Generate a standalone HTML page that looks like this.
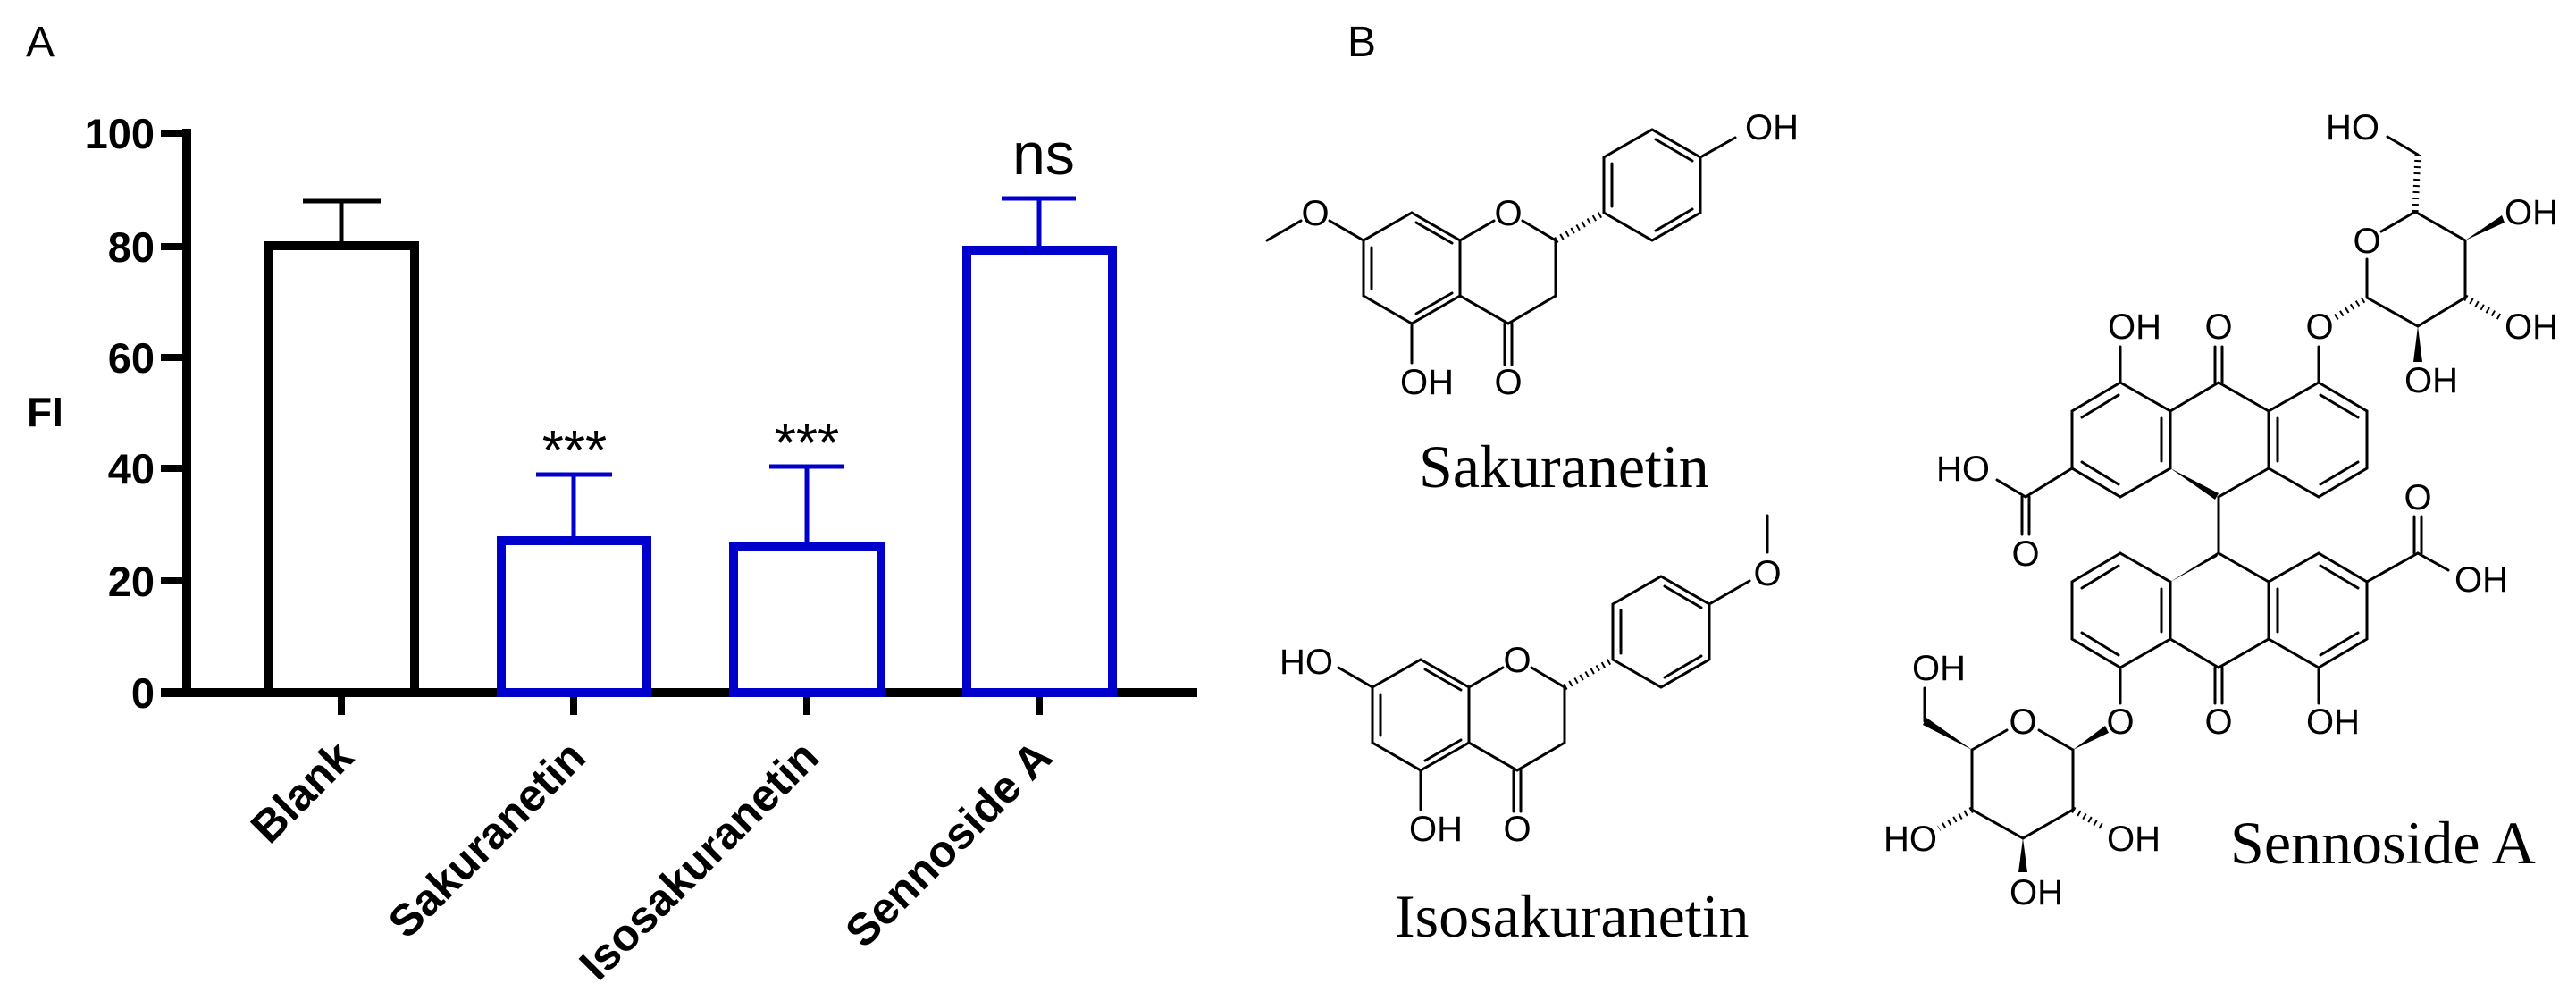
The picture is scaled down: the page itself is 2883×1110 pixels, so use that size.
<!DOCTYPE html>
<html><head><meta charset="utf-8"><style>
html,body{margin:0;padding:0;background:#fff;}
svg{display:block;}
.ax{font-family:"Liberation Sans",Arial,sans-serif;font-weight:bold;}
.lb{font-family:"Liberation Sans",Arial,sans-serif;font-size:40px;}
.nm{font-family:"Liberation Serif","Times New Roman",serif;font-size:68px;}
</style></head><body>
<svg width="2883" height="1110" viewBox="0 0 2883 1110" xmlns="http://www.w3.org/2000/svg">
<rect width="2883" height="1110" fill="#fff"/>
<!-- Panel labels -->
<text x="29" y="63" font-family="Liberation Sans, sans-serif" font-size="48">A</text>
<text x="1508" y="63" font-family="Liberation Sans, sans-serif" font-size="48">B</text>

<!-- Chart -->
<g stroke="#000" stroke-linecap="butt" fill="none">
<line x1="209" y1="144" x2="209" y2="780" stroke-width="10"/>
<line x1="180" y1="775" x2="1340" y2="775" stroke-width="10"/>
<g stroke-width="8">
<line x1="180" y1="149" x2="209" y2="149"/>
<line x1="180" y1="276" x2="209" y2="276"/>
<line x1="180" y1="400" x2="209" y2="400"/>
<line x1="180" y1="524" x2="209" y2="524"/>
<line x1="180" y1="650" x2="209" y2="650"/>
<line x1="382" y1="775" x2="382" y2="800"/>
<line x1="642" y1="775" x2="642" y2="800"/>
<line x1="903" y1="775" x2="903" y2="800"/>
<line x1="1163" y1="775" x2="1163" y2="800"/>
</g>
<rect x="300" y="275" width="164" height="500" stroke-width="10"/>
<line x1="382" y1="270" x2="382" y2="225" stroke-width="5"/>
<line x1="339" y1="225" x2="426" y2="225" stroke-width="5"/>
</g>
<g stroke="#0000cc" fill="none">
<rect x="561" y="605" width="163" height="170" stroke-width="10"/>
<line x1="642" y1="600" x2="642" y2="531" stroke-width="5"/>
<line x1="600" y1="531" x2="685" y2="531" stroke-width="5"/>
<rect x="821" y="612" width="165" height="163" stroke-width="10"/>
<line x1="903" y1="607" x2="903" y2="522" stroke-width="5"/>
<line x1="861" y1="522" x2="945" y2="522" stroke-width="5"/>
<rect x="1082" y="280" width="163" height="495" stroke-width="10"/>
<line x1="1163" y1="275" x2="1163" y2="222" stroke-width="5"/>
<line x1="1121" y1="222" x2="1204" y2="222" stroke-width="5"/>
</g>
<g class="ax" font-size="47" text-anchor="end">
<text x="173" y="166">100</text>
<text x="173" y="293">80</text>
<text x="173" y="417">60</text>
<text x="173" y="541">40</text>
<text x="173" y="667">20</text>
<text x="173" y="792">0</text>
</g>
<text class="ax" x="30" y="477" font-size="46">FI</text>
<g font-family="Liberation Sans, sans-serif" font-size="62" text-anchor="middle">
<text x="643" y="525">***</text>
<text x="903" y="517">***</text>
<text x="1168" y="195" font-size="66">ns</text>
</g>
<g class="ax" font-size="50" text-anchor="end">
<text transform="translate(398,850) rotate(-45)">Blank</text>
<text transform="translate(658,850) rotate(-45)">Sakuranetin</text>
<text transform="translate(919,850) rotate(-45)">Isosakuranetin</text>
<text transform="translate(1180,850) rotate(-45)">Sennoside A</text>
</g>

<defs>
<g id="flav" stroke="#000" stroke-width="3" fill="none" stroke-linecap="round">
<polyline points="1580,238 1634,269 1634,331 1580,362 1526,331 1526,269 1580,238"/>
<line x1="1535" y1="277" x2="1535" y2="323"/>
<line x1="1585" y1="249" x2="1625" y2="272"/>
<line x1="1585" y1="351" x2="1625" y2="328"/>
<line x1="1634" y1="269" x2="1672" y2="247"/>
<line x1="1704" y1="247" x2="1741" y2="269"/>
<polyline points="1741,269 1741,331 1688,362 1634,331"/>
<line x1="1684" y1="362" x2="1684" y2="408"/>
<line x1="1692" y1="362" x2="1692" y2="408"/>
<line x1="1580" y1="362" x2="1580" y2="406"/>
<line x1="1741" y1="269" x2="1795" y2="238" stroke-width="7" stroke-dasharray="2,5" stroke-linecap="butt"/>
<polyline points="1795,238 1795,176 1849,145 1903,176 1903,238 1849,269 1795,238"/>
<line x1="1804" y1="183" x2="1804" y2="231"/>
<line x1="1853" y1="156" x2="1894" y2="180"/>
<line x1="1894" y1="234" x2="1853" y2="258"/>
</g>
</defs>

<!-- Sakuranetin -->
<use href="#flav"/>
<g stroke="#000" stroke-width="3" fill="none" stroke-linecap="round">
<line x1="1526" y1="269" x2="1488" y2="247"/>
<line x1="1456" y1="247" x2="1418" y2="269"/>
<line x1="1903" y1="176" x2="1942" y2="154"/>
</g>
<g class="lb" text-anchor="middle">
<text x="1688" y="252">O</text>
<text x="1688" y="441">O</text>
<text x="1597" y="441">OH</text>
<text x="1472" y="252">O</text>
<text x="1983" y="156">OH</text>
</g>
<text class="nm" x="1588" y="545">Sakuranetin</text>

<!-- Isosakuranetin -->
<use href="#flav" transform="translate(10,500)"/>
<g stroke="#000" stroke-width="3" fill="none" stroke-linecap="round">
<line x1="1536" y1="769" x2="1498" y2="747"/>
<line x1="1913" y1="676" x2="1958" y2="650"/>
<line x1="1978" y1="618" x2="1978" y2="577"/>
</g>
<g class="lb" text-anchor="middle">
<text x="1698" y="752">O</text>
<text x="1698" y="941">O</text>
<text x="1607" y="941">OH</text>
<text x="1462" y="754">HO</text>
<text x="1978" y="655">O</text>
</g>
<text class="nm" x="1561" y="1048">Isosakuranetin</text>

<!-- Sennoside A -->
<g stroke="#000" stroke-width="3" fill="none" stroke-linecap="round">
<polyline points="2373,428 2429,460 2429,524 2373,556 2319,524 2319,460 2373,428"/>
<line x1="2330" y1="467" x2="2371" y2="442"/>
<line x1="2330" y1="517" x2="2371" y2="542"/>
<line x1="2419" y1="468" x2="2419" y2="516"/>
<polyline points="2429,460 2483,428 2539,460"/>
<line x1="2483" y1="556" x2="2539" y2="524"/>
<polyline points="2595,428 2649,460 2649,524 2595,556 2539,524 2539,460 2595,428"/>
<line x1="2597" y1="442" x2="2639" y2="467"/>
<line x1="2639" y1="517" x2="2597" y2="542"/>
<line x1="2549" y1="468" x2="2549" y2="516"/>
<line x1="2373" y1="428" x2="2373" y2="388"/>
<line x1="2479" y1="428" x2="2479" y2="388"/>
<line x1="2487" y1="428" x2="2487" y2="388"/>
<line x1="2595" y1="428" x2="2595" y2="388"/>
<line x1="2319" y1="524" x2="2267" y2="556"/>
<line x1="2267" y1="556" x2="2235" y2="537"/>
<line x1="2263" y1="556" x2="2263" y2="598"/>
<line x1="2271" y1="556" x2="2271" y2="598"/>
<line x1="2483" y1="556" x2="2483" y2="619"/>
<polyline points="2373,619 2429,651 2429,715 2373,747 2319,715 2319,651 2373,619"/>
<line x1="2330" y1="658" x2="2371" y2="633"/>
<line x1="2330" y1="708" x2="2371" y2="733"/>
<line x1="2419" y1="659" x2="2419" y2="707"/>
<polyline points="2429,715 2483,747 2539,715"/>
<line x1="2483" y1="619" x2="2539" y2="651"/>
<polyline points="2595,619 2649,651 2649,715 2595,747 2539,715 2539,651 2595,619"/>
<line x1="2597" y1="633" x2="2639" y2="658"/>
<line x1="2639" y1="708" x2="2597" y2="733"/>
<line x1="2549" y1="659" x2="2549" y2="707"/>
<line x1="2373" y1="747" x2="2373" y2="787"/>
<line x1="2479" y1="747" x2="2479" y2="787"/>
<line x1="2487" y1="747" x2="2487" y2="787"/>
<line x1="2595" y1="747" x2="2595" y2="787"/>
<line x1="2649" y1="651" x2="2706" y2="619"/>
<line x1="2702" y1="619" x2="2702" y2="578"/>
<line x1="2710" y1="619" x2="2710" y2="578"/>
<line x1="2706" y1="619" x2="2740" y2="638"/>
<line x1="2649" y1="333" x2="2649" y2="290"/>
<line x1="2665" y1="259" x2="2703" y2="237"/>
<polyline points="2703,237 2759,269 2759,333 2706,365 2649,333"/>
<line x1="2672" y1="153" x2="2706" y2="173"/>
<line x1="2320" y1="839" x2="2282" y2="817"/>
<line x1="2246" y1="817" x2="2207" y2="839"/>
<polyline points="2207,839 2207,906 2264,938 2320,906 2320,839"/>
<line x1="2154" y1="807" x2="2154" y2="770"/>
</g>
<g stroke="#000" stroke-width="7" stroke-dasharray="2,5" fill="none">
<line x1="2614" y1="355" x2="2649" y2="333"/>
<line x1="2703" y1="237" x2="2706" y2="173"/>
<line x1="2759" y1="333" x2="2800" y2="356"/>
<line x1="2207" y1="906" x2="2170" y2="927"/>
<line x1="2320" y1="906" x2="2356" y2="927"/>
</g>
<g fill="#000">
<polygon points="2429,524 2483,552 2479,559"/>
<polygon points="2429,651 2485,616 2481,623"/>
<polygon points="2759,269 2800,241 2803,249"/>
<polygon points="2706,365 2701,405 2711,405"/>
<polygon points="2320,839 2356,812 2360,820"/>
<polygon points="2207,839 2156,803 2152,811"/>
<polygon points="2264,938 2259,976 2269,976"/>
</g>
<g class="lb" text-anchor="middle">
<text x="2389" y="379">OH</text>
<text x="2483" y="379">O</text>
<text x="2596" y="379">O</text>
<text x="2197" y="538">HO</text>
<text x="2267" y="633">O</text>
<text x="2373" y="821">O</text>
<text x="2483" y="821">O</text>
<text x="2611" y="821">OH</text>
<text x="2706" y="570">O</text>
<text x="2777" y="662">OH</text>
<text x="2649" y="283">O</text>
<text x="2633" y="156">HO</text>
<text x="2721" y="439">OH</text>
<text x="2264" y="821">O</text>
<text x="2170" y="761">OH</text>
<text x="2279" y="1012">OH</text>
</g>
<g class="lb">
<text x="2803" y="251">OH</text>
<text x="2803" y="379">OH</text>
<text x="2358" y="952">OH</text>
<text x="2168" y="952" text-anchor="end">HO</text>
</g>
<text class="nm" x="2496" y="966">Sennoside A</text>
</svg>
</body></html>
